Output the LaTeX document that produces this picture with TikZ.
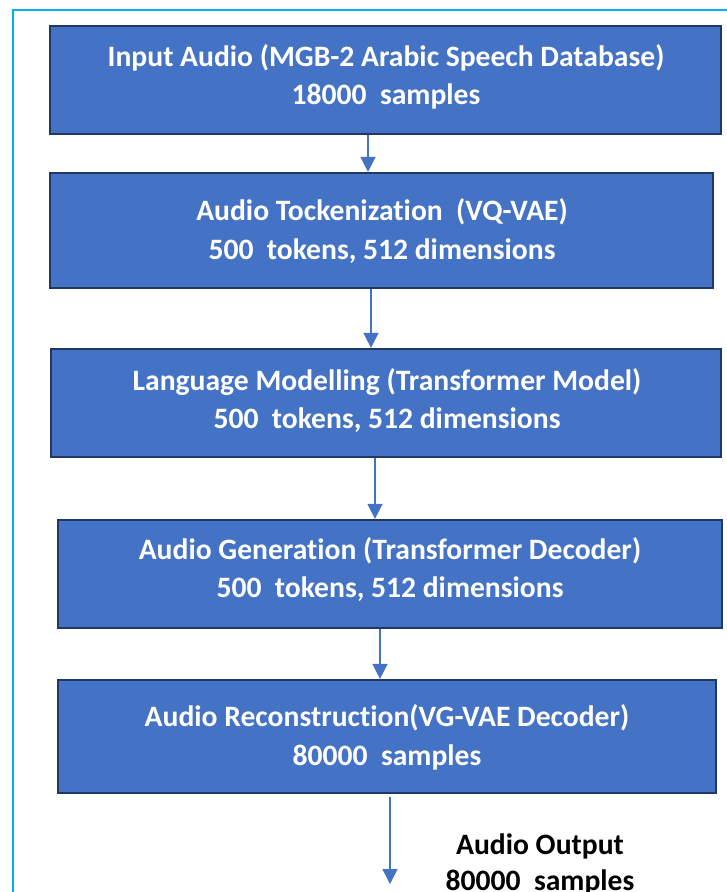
\documentclass[tikz,border=0pt]{standalone}
\usepackage{fontspec}
\setmainfont{Carlito}[Ligatures=NoCommon]
\usetikzlibrary{arrows.meta}
\definecolor{boxfill}{HTML}{4472C4}
\definecolor{boxedge}{HTML}{1F3864}
\definecolor{framec}{HTML}{00B0F0}
\tikzset{
  stagebox/.style={draw=boxedge, line width=2.2pt, fill=boxfill, text=white,
    font=\fontsize{29.6}{38.5}\selectfont\bfseries, align=center, inner sep=0pt},
  flowarrow/.style={draw=boxfill, line width=1.4pt,
    -{Triangle[width=15pt,length=15pt]}},
  outtext/.style={text=black, font=\fontsize{29.6}{36}\selectfont\bfseries, align=center, inner sep=0pt}
}
\begin{document}
\begin{tikzpicture}[x=1pt,y=-1pt]
\useasboundingbox (0,0) rectangle (727,892);
\draw[framec, line width=2pt] (13,892) -- (13,10) -- (727,10);

\node[stagebox, minimum width=671pt, minimum height=108pt] (b1) at (385.5,80) {};
\node[stagebox, minimum width=663pt, minimum height=115pt] (b2) at (381.5,230.5) {};
\node[stagebox, minimum width=670pt, minimum height=108pt] (b3) at (386,403) {};
\node[stagebox, minimum width=664pt, minimum height=108pt] (b4) at (390,574) {};
\node[stagebox, minimum width=658pt, minimum height=113pt] (b5) at (387,736.5) {};

\node[stagebox, draw=none, fill=none] (t1) at (386,77)
  {Input Audio (MGB-2 Arabic Speech Database)\\18000~ samples};
\node[stagebox, draw=none, fill=none] (t2) at (382,231)
  {Audio Tockenization~ (VQ-VAE)\\500~ tokens, 512 dimensions};
\node[stagebox, draw=none, fill=none] (t3) at (387,400.5)
  {Language Modelling (Transformer Model)\\500~ tokens, 512 dimensions};
\node[stagebox, draw=none, fill=none] (t4) at (390,569.5)
  {Audio Generation (Transformer Decoder)\\500~ tokens, 512 dimensions};
\node[stagebox, draw=none, fill=none] (t5) at (387,737.5)
  {Audio Reconstruction(VG-VAE Decoder)\\80000~ samples};

\node[outtext, anchor=north] (out) at (540,834) {Audio Output\\80000~ samples};

\coordinate (x1) at (368,0);
\coordinate (x2) at (371,0);
\coordinate (x3) at (375,0);
\coordinate (x4) at (380,0);
\coordinate (x5) at (390,0);
\coordinate (end) at (390,884);

\draw[flowarrow] (x1 |- b1.south) -- (x1 |- b2.north);
\draw[flowarrow] (x2 |- b2.south) -- (x2 |- b3.north);
\draw[flowarrow] (x3 |- b3.south) -- (x3 |- b4.north);
\draw[flowarrow] (x4 |- b4.south) -- (x4 |- b5.north);
\draw[flowarrow] ([yshift=-3pt]x5 |- b5.south) -- (end);
\end{tikzpicture}
\end{document}
